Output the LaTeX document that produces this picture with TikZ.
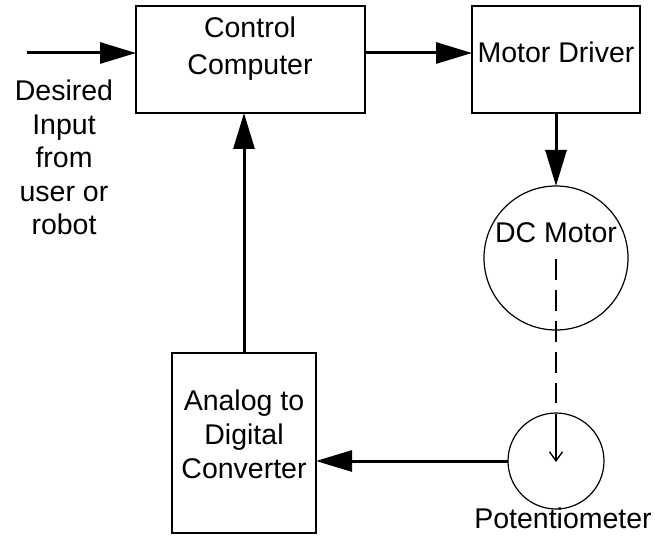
\documentclass[tikz,border=0pt]{standalone}
\usepackage{fontspec}
\setmainfont{Liberation Sans}
\usetikzlibrary{arrows.meta}
\begin{document}
\begin{tikzpicture}[x=1pt,y=-1pt,
  every node/.style={inner sep=0pt, outer sep=0pt},
  block/.style={draw, line width=2.5pt, rectangle},
  wheel/.style={draw, line width=1.2pt, circle},
  caption/.style={font=\fontsize{28.5}{33.5}\selectfont, align=center},
  flow/.style={line width=3pt, -{Triangle[length=36pt,width=21pt]}},
  shaft/.style={line width=1.6pt, dash pattern=on 21pt off 10pt},
  shafttip/.style={line width=1.6pt,
                -{Straight Barb[length=9pt,width=13pt,line width=1.4pt]}}]
  \useasboundingbox (0,0) rectangle (655,537);

  % blocks
  \node[block, minimum width=229pt, minimum height=107pt] (cc) at (250.5,59.5) {};
  \node[block, minimum width=168pt, minimum height=107pt] (md) at (556,59.5) {};
  \node[block, minimum width=144pt, minimum height=180pt] (adc) at (244,443) {};
  \node[wheel, minimum size=144pt] (dc) at (556,258) {};
  \node[wheel, minimum size=96pt] (pot) at (556,461) {};

  % texts
  \node[caption, font=\fontsize{28.5}{37}\selectfont, anchor=north] (cctext) at (250,16.5) {Control\\Computer};
  \node[caption, anchor=base] (mdtext) at (556,63) {Motor Driver};
  \node[caption, anchor=north] (intext) at (64,80) {Desired\\Input\\from\\user or\\robot};
  \node[caption, font=\fontsize{28.5}{34}\selectfont, anchor=north] (adctext) at (244,390) {Analog to\\Digital\\Converter};
  \node[caption, anchor=base] (dctext) at (556,242) {DC Motor};
  \node[caption, anchor=base] (pottext) at (563,528) {Potentiometer};

  % signal flow
  \coordinate (inp) at (27,53);
  \draw[flow] (inp) -- (inp -| cc.west);
  \draw[flow] ([yshift=6.5pt]cc.east) -- ([yshift=6.5pt]md.west);
  \draw[flow] (md.south) -- (dc.north);
  \draw[flow] (adc.north) -- (adc.north |- cc.south);
  \draw[flow] (pot.west) -- (pot.west -| adc.east);

  % mechanical coupling from motor shaft to potentiometer
  \coordinate (shaftend) at (556,403);
  \coordinate (shaftrest) at (556,414);
  \draw[shaft] ([yshift=-1pt]dc.center) -- (shaftend);
  \draw[shafttip] (shaftrest) -- ([yshift=-1pt]pot.center);
\end{tikzpicture}
\end{document}
